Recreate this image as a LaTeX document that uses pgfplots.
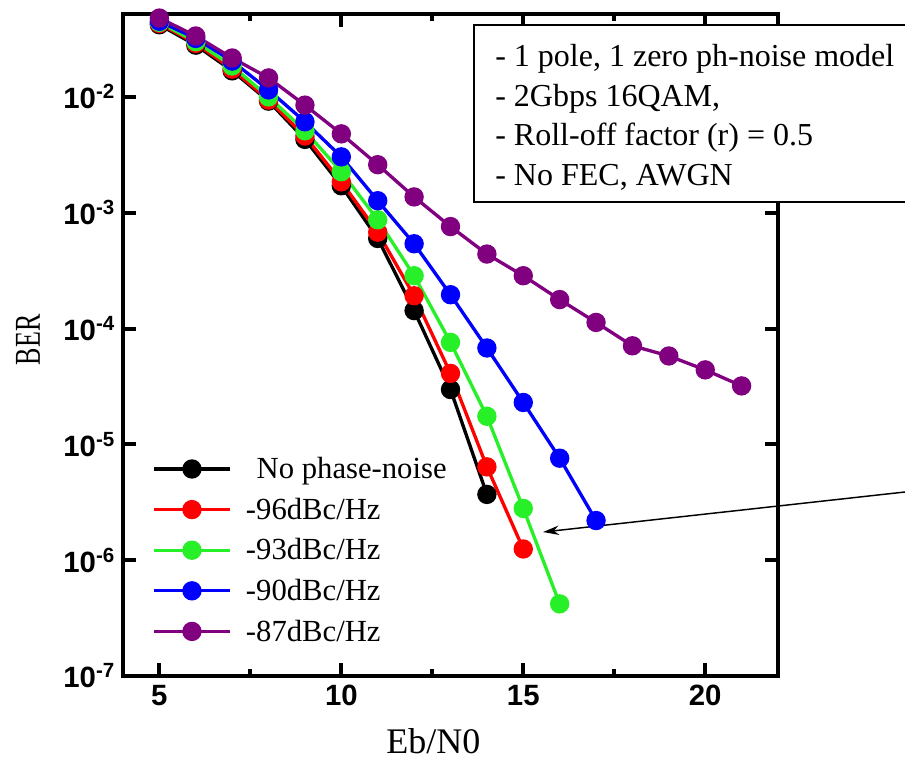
\documentclass[border=0pt]{standalone}
\usepackage{pgfplots}
\pgfplotsset{compat=1.18}
\usepackage{graphicx}
\usepackage{fontspec}
\setmainfont{Liberation Serif}
\setsansfont{Liberation Sans}
\usetikzlibrary{arrows.meta}
\definecolor{cgreen}{RGB}{40,240,40}
\definecolor{cpurple}{RGB}{128,0,128}
\begin{document}
\begin{tikzpicture}
\begin{axis}[
  scale only axis,
  width=491.25pt, height=496.5pt,
  xmin=4, xmax=22,
  ymode=log, log basis y=10,
  ymin=1e-7, ymax=5.2e-2,
  axis line style={line width=3.5pt},
  tick align=inside,
  tick style={line width=3pt, black},
  major tick length=10pt,
  minor tick length=5pt,
  xtick={5,10,15,20},
  xticklabels={5,10,15,20},
  minor x tick num=1,
  ytick={1e-7,1e-6,1e-5,1e-4,1e-3,1e-2},
  yticklabel={\pgfmathparse{int(round(\tick))}\textbf{10\textsuperscript{\pgfmathresult}}},
  xticklabel style={font=\sffamily\bfseries\fontsize{22}{26}\selectfont, yshift=-3.5pt},
  yticklabel style={font=\sffamily\bfseries\fontsize{22}{26}\selectfont, xshift=-2.5pt},
  xlabel={Eb/N0},
  ylabel={\scalebox{1}[1.4]{BER}},
  xlabel style={font=\fontsize{27}{30}\selectfont, at={(axis description cs:0.474,-0.098)}, anchor=center},
  ylabel style={font=\fontsize{19.5}{24}\selectfont, at={(axis description cs:-0.145,0.508)}, anchor=center},
  every axis plot/.append style={line width=2.5pt, mark=*, mark size=6pt},
  legend style={draw=none, fill=none, at={(axis cs:4.7,1.22e-6)}, anchor=west,
    font=\fontsize{23}{28}\selectfont, row sep=9pt,
    legend cell align=left},
  legend image code/.code={\draw[mark repeat=2,mark phase=2,#1] plot coordinates {(0cm,0cm) (0.99cm,0cm) (1.98cm,0cm)}; \path (2.3cm,0cm);},
  clip=false,
]
\addplot[black, mark options={fill=black}] coordinates {
(5,0.042) (6,0.028) (7,0.0168) (8,0.0092) (9,0.0043) (10,0.00171) (11,6.0e-4) (12,1.43e-4) (13,2.98e-5) (14,3.7e-6)};
\addlegendentry{\hspace{0.35em}No phase-noise}
\addplot[red, mark options={fill=red}] coordinates {
(5,0.043) (6,0.029) (7,0.0174) (8,0.0094) (9,0.0046) (10,0.00185) (11,6.8e-4) (12,1.92e-4) (13,4.1e-5) (14,6.4e-6) (15,1.25e-6)};
\addlegendentry{-96dBc/Hz}
\addplot[cgreen, mark options={fill=cgreen}] coordinates {
(5,0.044) (6,0.030) (7,0.0185) (8,0.010) (9,0.0051) (10,0.00226) (11,8.7e-4) (12,2.86e-4) (13,7.6e-5) (14,1.75e-5) (15,2.8e-6) (16,4.2e-7)};
\addlegendentry{-93dBc/Hz}
\addplot[blue, mark options={fill=blue}] coordinates {
(5,0.045) (6,0.032) (7,0.0204) (8,0.0115) (9,0.0061) (10,0.00304) (11,1.27e-3) (12,5.4e-4) (13,1.96e-4) (14,6.8e-5) (15,2.3e-5) (16,7.6e-6) (17,2.2e-6)};
\addlegendentry{-90dBc/Hz}
\addplot[cpurple, mark options={fill=cpurple}] coordinates {
(5,0.048) (6,0.0336) (7,0.0217) (8,0.0146) (9,0.0085) (10,0.0048) (11,0.0026) (12,0.00137) (13,7.6e-4) (14,4.4e-4) (15,2.86e-4) (16,1.78e-4) (17,1.13e-4) (18,7.1e-5) (19,5.8e-5) (20,4.4e-5) (21,3.2e-5)};
\addlegendentry{-87dBc/Hz}
\draw[line width=1.9pt, fill=white] (rel axis cs:0.5359,0.9834) rectangle (rel axis cs:1.25,0.716);
\node[anchor=north west, inner sep=0pt, align=left, font=\fontsize{24}{29.8}\selectfont] at (rel axis cs:0.568,0.955)
  {- 1 pole, 1 zero ph-noise model\\- 2Gbps 16QAM,\\- Roll-off factor (r) = 0.5\\- No FEC, AWGN};
\draw[line width=1.1pt, -{Stealth[length=12pt,width=7pt]}] (rel axis cs:1.2626,0.2855) -- (rel axis cs:0.6412,0.2175);
\end{axis}
\pgfresetboundingbox
\path[use as bounding box] (-92.25pt,-63.75pt) rectangle (586.5pt,507pt);
\end{tikzpicture}
\end{document}
